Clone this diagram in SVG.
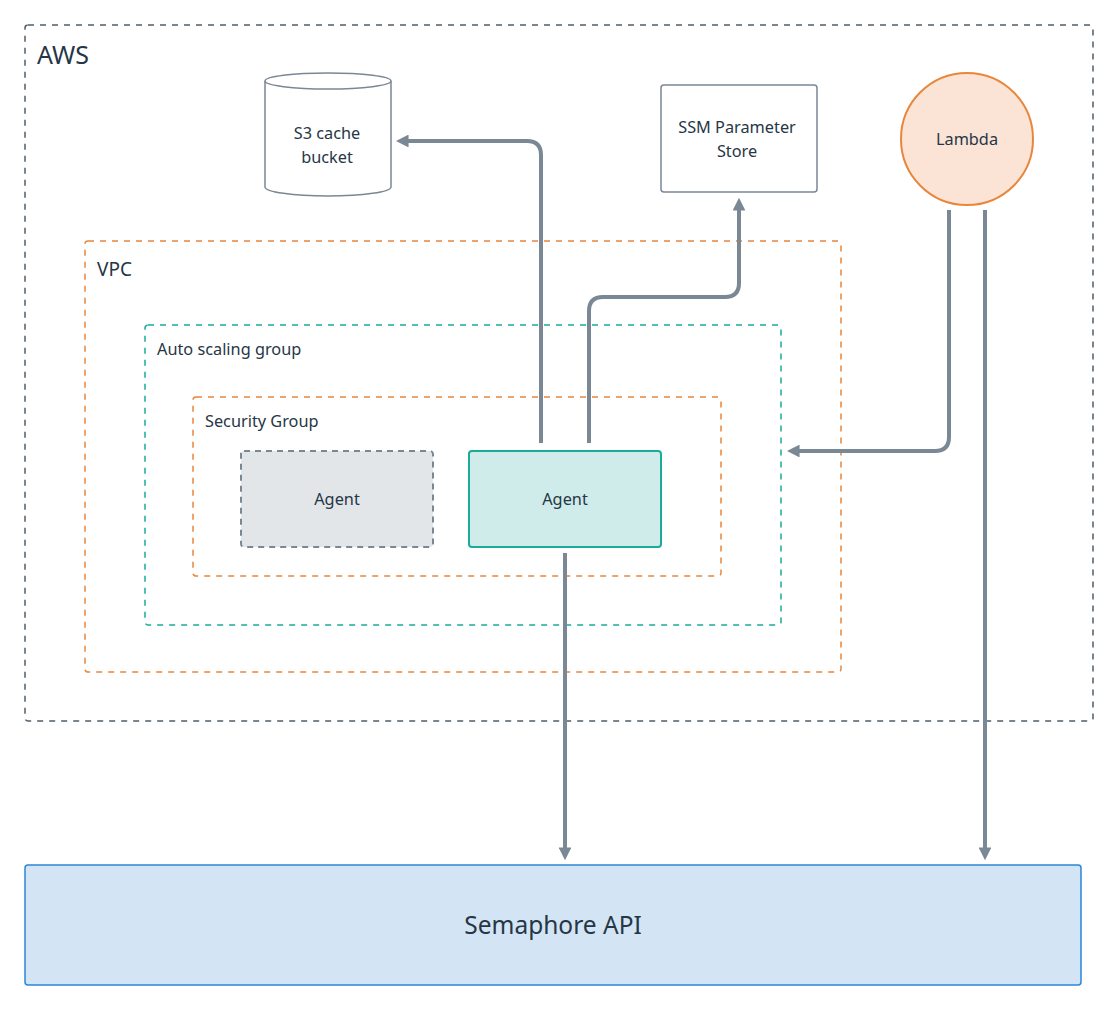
<svg xmlns="http://www.w3.org/2000/svg" width="1118" height="1010" viewBox="0 0 1118 1010">
<style>
text{font-family:"Noto Sans","Liberation Sans",sans-serif;fill:#263646}
.aws{fill:none;stroke:#4e5d6b;stroke-width:1.5;stroke-dasharray:6 6}
.org{fill:none;stroke:#e8873c;stroke-width:1.5;stroke-dasharray:6 6}
.teal{fill:none;stroke:#1aab9b;stroke-width:1.5;stroke-dasharray:6 6}
.conn{fill:none;stroke:#7a8896;stroke-width:4}
.lbl{font-size:16.3px}
.mid{text-anchor:middle}
</style>
<defs>
<marker id="ah" viewBox="0 0 10 10" refX="2" refY="5" markerWidth="3.2" markerHeight="3.2" orient="auto" markerUnits="strokeWidth">
<path d="M0 0 L10 5 L0 10 Z" fill="#7a8896"/>
</marker>
</defs>
<rect width="1118" height="1010" fill="#ffffff"/>
<g id="aws"><rect class="aws" x="25" y="25" width="1068" height="696" rx="3"/><text x="37" y="64" font-size="25">AWS</text></g>
<g id="vpc"><rect class="org" x="85" y="241" width="756" height="431" rx="3"/><text x="97" y="276" font-size="19">VPC</text></g>
<g id="asg"><rect class="teal" x="145" y="325" width="636" height="300" rx="3"/><text x="157" y="355" class="lbl">Auto scaling group</text></g>
<g id="sg"><rect class="org" x="193" y="397" width="528" height="179" rx="3"/><text x="205" y="427" class="lbl">Security Group</text></g>
<g id="agent1"><rect x="241" y="451" width="192" height="96" rx="3" fill="#e2e6e9" stroke="#7a8896" stroke-width="2" stroke-dasharray="6 5"/><text x="337" y="505" class="lbl mid">Agent</text></g>
<g id="agent2"><rect x="469" y="451" width="192" height="96" rx="3" fill="#cfecea" stroke="#1aab9b" stroke-width="2"/><text x="565" y="505" class="lbl mid">Agent</text></g>
<g id="s3">
<path d="M265 81 V187 A63 9 0 0 0 391 187 V81" fill="#ffffff" stroke="#7a8896" stroke-width="1.5"/>
<ellipse cx="328" cy="81" rx="63" ry="8" fill="#ffffff" stroke="#7a8896" stroke-width="1.5"/>
<text x="327" y="139" class="lbl mid">S3 cache</text><text x="327" y="163" class="lbl mid">bucket</text>
</g>
<g id="ssm"><rect x="661" y="85" width="156" height="107" rx="3" fill="#ffffff" stroke="#7a8896" stroke-width="1.5"/><text x="737" y="133" class="lbl mid">SSM Parameter</text><text x="737" y="157" class="lbl mid">Store</text></g>
<g id="lambda"><circle cx="967" cy="139" r="66" fill="#fbe4d6" stroke="#e8873c" stroke-width="2"/><text x="967" y="145" class="lbl mid">Lambda</text></g>
<g id="api"><rect x="25" y="865" width="1056" height="120" rx="3" fill="#d3e5f5" stroke="#2b86d6" stroke-width="1.5"/><text x="553" y="934" font-size="24.5" class="mid">Semaphore API</text></g>
<g id="connectors">
<path class="conn" d="M541 443 V155 Q541 141 527 141 H406" marker-end="url(#ah)"/>
<path class="conn" d="M589 443 V311 Q589 297 603 297 H725 Q739 297 739 283 V208" marker-end="url(#ah)"/>
<path class="conn" d="M949 210 V437 Q949 451 935 451 H797" marker-end="url(#ah)"/>
<path class="conn" d="M985 210 V850" marker-end="url(#ah)"/>
<path class="conn" d="M565 553 V850" marker-end="url(#ah)"/>
</g>
</svg>
